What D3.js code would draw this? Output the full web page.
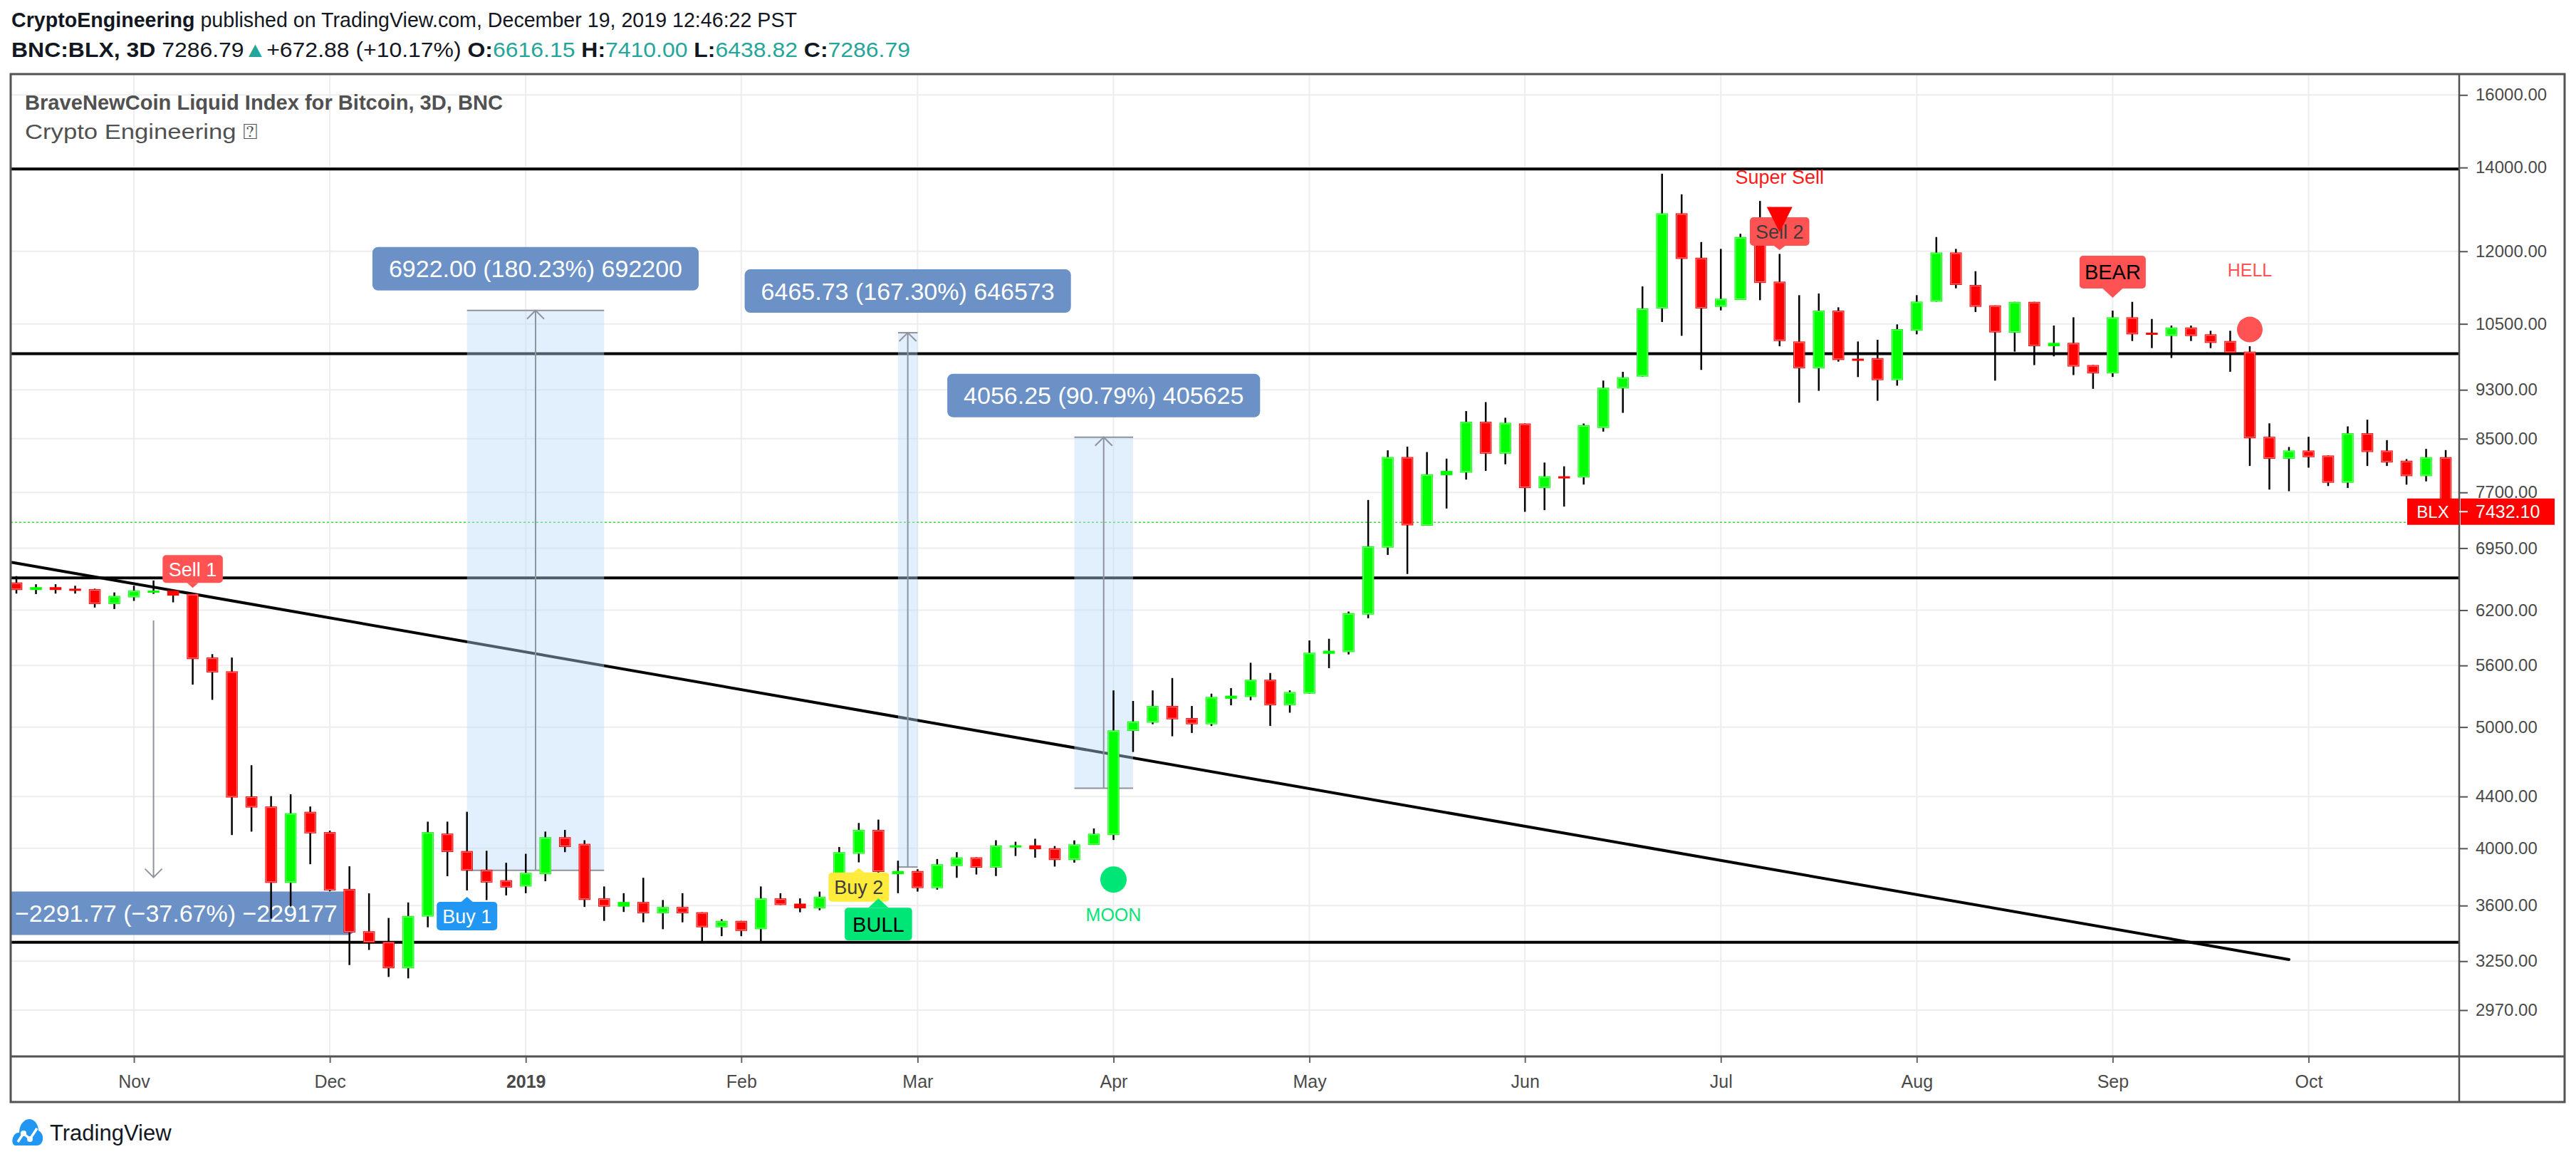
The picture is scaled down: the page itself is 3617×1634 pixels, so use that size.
<!DOCTYPE html>
<html>
<head>
<meta charset="utf-8">
<script src="https://cdn.jsdelivr.net/npm/d3@7"></script>
<style>
html,body{margin:0;padding:0;background:#fff;}
svg{display:block;}
</style>
</head>
<body>
<svg id="chart" width="3617" height="1634"></svg>
<script>
// ================= DATA =================
const candleStart = "2018-10-15";   // first 3-day candle
const candleStepDays = 3;
const opens  = [6524,6434,6468,6450,6444,6270,6348,6409,6427,6389,5682,5540,4401,4320,3754,4278,4121,3712,3434,3368,3208,3528,4110,3980,3845,3772,3729,3814,4083,4033,3648,3593,3624,3549,3591,3556,3459,3500,3447,3648,3613,3582,3659,3960,4138,3814,3836,3718,3872,3934,3860,4010,4022,4000,3915,4025,4099,4964,5041,5198,5084,5026,5268,5285,5455,5204,5317,5722,5740,6150,6956,8218,7242,7947,7986,8769,8269,8741,7762,7932,7915,8669,9324,9529,10802,12869,11859,10835,10973,12300,11348,10165,9676,10759,9849,9858,9467,10367,10939,11974,11279,10863,10331,10934,10077,10139,9733,9585,10628,10331,10268,10430,10300,10174,9977,8530,8191,8317,8241,7838,8586,8317,8162,7934,8216];
const highs  = [6601,6503,6503,6485,6450,6406,6485,6548,6430,6395,5718,5682,4661,4403,4418,4320,4132,3870,3682,3519,3621,4201,4201,4278,3982,3895,3960,4125,4138,4060,3729,3683,3789,3637,3683,3556,3511,3500,3729,3683,3648,3694,4010,4191,4217,3910,3849,3922,3972,3934,4060,4049,4071,4017,4059,4149,5349,5246,5349,5472,5198,5317,5372,5628,5523,5349,5864,5882,6184,7594,8320,8376,8294,8194,8943,9092,8834,8741,8135,8079,8741,9459,9613,11249,13842,13326,12206,12053,12394,13164,11943,11069,11103,10825,10165,10196,10490,11069,12319,12053,11568,10863,10934,10934,10467,10628,9733,10759,10934,10595,10467,10467,10367,10367,10077,8744,8371,8530,8241,8695,8802,8478,8187,8342,8324];
const lows   = [6392,6386,6392,6392,6230,6213,6307,6389,6290,5406,5257,4099,4125,3515,3594,3885,3696,3227,3318,3157,3149,3459,3800,3702,3637,3668,3683,3765,3972,3591,3500,3558,3491,3447,3491,3360,3403,3403,3360,3604,3556,3569,3640,3898,3780,3683,3694,3707,3789,3812,3801,3944,3932,3868,3896,4025,4062,4776,5026,4916,4946,5010,5204,5252,5010,5134,5317,5573,5715,6109,6863,6627,7242,7475,7884,8011,8109,7430,7453,7502,7812,8612,8914,9529,10536,10272,9647,10764,10973,10968,10076,9083,9283,9795,9521,9115,9372,10300,10939,11210,10731,9459,9977,9733,9891,9556,9317,9523,10174,10042,9861,10174,10042,9614,8084,7740,7717,8059,7791,7764,8084,8084,7811,7858,7400];
const closes = [6434,6468,6434,6427,6270,6365,6427,6427,6368,5666,5529,4392,4312,3754,4267,4112,3702,3426,3363,3208,3532,4121,3973,3839,3756,3722,3824,4083,4010,3638,3593,3624,3549,3591,3549,3459,3500,3436,3648,3604,3582,3659,3972,4138,3830,3836,3718,3884,3934,3860,4021,4022,3993,3915,4029,4109,4970,5053,5198,5072,5026,5285,5297,5455,5204,5333,5733,5754,6165,6973,8218,7247,7961,8011,8769,8269,8753,7762,7932,7915,8714,9336,9517,10802,12869,11833,10802,10997,12319,11323,10174,9676,10759,9825,9825,9467,10399,10939,11974,11279,10835,10336,10934,10077,10139,9707,9585,10628,10300,10300,10430,10268,10139,9955,8507,8191,8317,8216,7838,8586,8295,8137,7934,8216,7432.10];

const priceTicks = [16000,14000,12000,10500,9300,8500,7700,6950,6200,5600,5000,4400,4000,3600,3250,2970];
const monthTickLabels = ["Nov","Dec","2019","Feb","Mar","Apr","May","Jun","Jul","Aug","Sep","Oct"];

const levelLines = [13960, 9940, 6580, 3365];
const trendLine = [{i:-0.22, p:6769}, {i:116, p:3260}];
const lastPrice = 7432.10;
const closeLinePrice = 7286.79;

const measures = [
  {i0:23, i1:30, p0:3840.7, p1:10762.7, label:"6922.00 (180.23%) 692200"},
  {i0:45, i1:46, p0:3864.7, p1:10330.4, label:"6465.73 (167.30%) 646573"},
  {i0:54, i1:57, p0:4467.7, p1:8523.95, label:"4056.25 (90.79%) 405625"},
  {i0:7,  i1:7,  p0:6083.8, p1:3792.0,  label:"\u22122291.77 (\u221237.67%) \u2212229177"}
];
const signals = [
  {text:"Sell 1", i:9,   p:6459,  kind:"sell1"},
  {text:"Buy 1",  i:23,  p:3658,  kind:"buy1"},
  {text:"Buy 2",  i:43,  p:3856,  kind:"buy2"},
  {text:"BULL",   i:44,  p:3648,  kind:"bull"},
  {text:"Sell 2", i:90,  p:12027, kind:"sell2"},
  {text:"BEAR",   i:107, p:11016, kind:"bear"}
];
const dots = [
  {text:"MOON", i:56,  p:3777,  kind:"moon"},
  {text:"HELL", i:114, p:10392, kind:"hell"}
];
const superSell = {text:"Super Sell", i:90, pTop:13021, pBottom:12434};

const headerLine1 = [{t:"CryptoEngineering", b:true}, {t:" published on TradingView.com, December 19, 2019 12:46:22 PST"}];
const headerLine2 = [{t:"BNC:BLX, 3D", b:true}, {t:" 7286.79"}, {t:"\u25B2", c:1}, {t:"+672.88 (+10.17%) "},
  {t:"O:", b:true}, {t:"6616.15", c:1}, {t:" H:", b:true}, {t:"7410.00", c:1},
  {t:" L:", b:true}, {t:"6438.82", c:1}, {t:" C:", b:true}, {t:"7286.79", c:1}];
const titleText = "BraveNewCoin Liquid Index for Bitcoin, 3D, BNC";
const subtitleText = "Crypto Engineering \u2370";

// ================= STYLES / LAYOUT =================
const F = "'Liberation Sans', Arial, sans-serif";
const P = {l:15, r:3453, t:104, b:1483, axR:3601, axB:1547};
const teal = "#26a69a";
const signalStyle = {
  sell1:{fill:"#ff5252", color:"#ffffff", fs:27, h:39, ph:7,  pw:8,  pad:8.5, dir:"down"},
  buy1: {fill:"#2196f3", color:"#ffffff", fs:27, h:40, ph:7,  pw:8,  pad:8,   dir:"up"},
  buy2: {fill:"#ffeb3b", color:"#3d3d3d", fs:27, h:41, ph:6,  pw:8,  pad:8,   dir:"up"},
  bull: {fill:"#00e676", color:"#000000", fs:29, h:46, ph:13, pw:14, pad:11,  dir:"up"},
  sell2:{fill:"#ff5252", color:"#3d3d3d", fs:27, h:40, ph:6,  pw:8,  pad:8,   dir:"down"},
  bear: {fill:"#ff5252", color:"#000000", fs:29, h:46, ph:13, pw:14, pad:7,   dir:"down"}
};
const dotStyle = {
  moon:{fill:"#00e676", r:18.5, fs:25, dy:58},
  hell:{fill:"#ff5252", r:18,   fs:25, dy:-75}
};

// ================= SCALES =================
const svg = d3.select("#chart");
const n = opens.length;
const t0 = new Date(candleStart + "T00:00:00Z");
const dates = d3.range(n).map(i => d3.utcDay.offset(t0, i * candleStepDays));
const x = d3.scaleLinear().domain([-0.5, n - 0.5]).range([9.25, 3447.8]);
const y = d3.scaleLog().domain([16000, 2970]).range([133.3, 1418]);

const monthTicks = [];
for (let i = 1; i < n; i++) if (dates[i].getUTCMonth() !== dates[i-1].getUTCMonth()) monthTicks.push(i);

function fitText(sel, target) {
  const len = sel.node().getComputedTextLength();
  if (Math.abs(len - target) / target > 0.012) sel.attr("textLength", target).attr("lengthAdjust", "spacingAndGlyphs");
}

// ================= HEADER =================
function headerLine(parts, yy, target) {
  const t = svg.append("text").attr("x", 16).attr("y", yy).attr("font-family", F)
    .attr("font-size", 30).attr("fill", "#131722");
  parts.forEach(p => t.append("tspan").attr("font-weight", p.b ? "bold" : null)
    .attr("fill", p.c ? teal : null).text(p.t));
  fitText(t, target);
}
headerLine(headerLine1, 38, 1103);
headerLine(headerLine2, 80, 1262);

// ================= GRID =================
const grid = svg.append("g");
grid.selectAll("line.h").data(priceTicks).join("line")
  .attr("x1", P.l).attr("x2", P.r).attr("y1", d => y(d)).attr("y2", d => y(d))
  .attr("stroke", "#ededed").attr("stroke-width", 2);
grid.selectAll("line.v").data(monthTicks).join("line")
  .attr("x1", d => x(d)).attr("x2", d => x(d)).attr("y1", P.t).attr("y2", P.b)
  .attr("stroke", "#ededed").attr("stroke-width", 2);

// title legend
const tl = svg.append("text").attr("x", 35).attr("y", 154).attr("font-family", F).attr("font-size", 30)
  .attr("font-weight", "bold").attr("fill", "#515151").text(titleText);
fitText(tl, 671);
const st = svg.append("text").attr("x", 35).attr("y", 195).attr("font-family", F).attr("font-size", 30)
  .attr("fill", "#515151").text(subtitleText);
fitText(st, 327);

// ================= PLOT (clipped) =================
svg.append("clipPath").attr("id", "pc").append("rect")
  .attr("x", P.l).attr("y", P.t).attr("width", P.r - P.l).attr("height", P.b - P.t);
const plot = svg.append("g").attr("clip-path", "url(#pc)");

// level lines
plot.selectAll("line.lvl").data(levelLines).join("line")
  .attr("x1", P.l).attr("x2", P.r).attr("y1", d => y(d)).attr("y2", d => y(d))
  .attr("stroke", "#000").attr("stroke-width", 4);
// trend line
plot.append("line")
  .attr("x1", x(trendLine[0].i)).attr("y1", y(trendLine[0].p))
  .attr("x2", x(trendLine[1].i)).attr("y2", y(trendLine[1].p))
  .attr("stroke", "#000").attr("stroke-width", 4).attr("stroke-linecap", "round");
// close dotted line
plot.append("line").attr("x1", P.l).attr("x2", P.r).attr("y1", y(closeLinePrice)).attr("y2", y(closeLinePrice))
  .attr("stroke", "#33dd33").attr("stroke-width", 1.5).attr("stroke-dasharray", "3,3");

// measures
const mg = plot.append("g");
measures.forEach(m => {
  const xa = x(m.i0), xb = x(m.i1), xm = (xa + xb) / 2;
  const ya = y(m.p0), yb = y(m.p1);
  const top = Math.min(ya, yb), bot = Math.max(ya, yb);
  const up = yb < ya;
  if (xb > xa) {
    mg.append("rect").attr("x", xa).attr("y", top).attr("width", xb - xa).attr("height", bot - top)
      .attr("fill", "rgba(187,217,251,0.42)");
    [top, bot].forEach(yy => mg.append("line").attr("x1", xa).attr("x2", xb).attr("y1", yy).attr("y2", yy)
      .attr("stroke", "#8f939c").attr("stroke-width", 2));
  }
  mg.append("line").attr("x1", xm).attr("x2", xm).attr("y1", ya).attr("y2", yb)
    .attr("stroke", "#8f939c").attr("stroke-width", 2);
  const s = up ? 1 : -1;
  mg.append("path").attr("d", `M${xm-12},${yb + s*12}L${xm},${yb}L${xm+12},${yb + s*12}`)
    .attr("fill", "none").attr("stroke", "#8f939c").attr("stroke-width", 2);
  const lg = mg.append("g");
  const txt = lg.append("text").attr("x", xm).attr("text-anchor", "middle").attr("font-family", F)
    .attr("font-size", 34).attr("fill", "#fff").text(m.label);
  const tw = txt.node().getComputedTextLength();
  const bh = 61;
  let bx0 = xm - (tw + 46) / 2, bx1 = xm + (tw + 46) / 2;
  if (bx0 + 23 < P.l + 6) {           // keep the whole label text inside the pane
    const tx = P.l + 6;
    txt.attr("x", tx).attr("text-anchor", "start");
    bx1 = tx + tw + 23;
  }
  const by = up ? yb - 28 - bh : yb + 20;
  lg.insert("rect", "text").attr("x", bx0).attr("y", by).attr("width", bx1 - bx0).attr("height", bh)
    .attr("rx", 8).attr("fill", "#6b91c6");
  txt.attr("y", by + bh/2 + 12);
});

// candles
const idx = d3.range(n);
const cg = plot.append("g");
const bw = 16.5;
cg.selectAll("line.wick").data(idx).join("line")
  .attr("x1", i => x(i)).attr("x2", i => x(i))
  .attr("y1", i => y(highs[i])).attr("y2", i => y(lows[i]))
  .attr("stroke", "#000").attr("stroke-width", 2.5);
const up = i => closes[i] >= opens[i];
const bodyTop = i => y(Math.max(opens[i], closes[i]));
const bodyH = i => Math.max(3, Math.abs(y(opens[i]) - y(closes[i])));
cg.selectAll("rect.body").data(idx).join("rect")
  .attr("x", i => x(i) - bw/2).attr("width", bw)
  .attr("y", bodyTop).attr("height", bodyH)
  .attr("fill", i => up(i) ? "#00ff00" : "#ff0000");
cg.selectAll("rect.inner").data(idx.filter(i => bodyH(i) > 8)).join("rect")
  .attr("x", i => x(i) - bw/2 + 1.5).attr("width", bw - 3)
  .attr("y", i => bodyTop(i) + 1.5).attr("height", i => bodyH(i) - 3)
  .attr("fill", "none").attr("stroke", i => up(i) ? "#8cff8c" : "#ff8c8c").attr("stroke-width", 1);

// signals
const sg = plot.append("g");
signals.forEach(sgn => {
  const st = signalStyle[sgn.kind];
  const cx = x(sgn.i), ty = y(sgn.p);
  const g = sg.append("g");
  const txt = g.append("text").attr("x", cx).attr("text-anchor", "middle").attr("font-family", F)
    .attr("font-size", st.fs).attr("fill", st.color).text(sgn.text);
  const tw = txt.node().getComputedTextLength();
  const w = tw + 2 * st.pad;
  const by = st.dir === "down" ? ty - st.ph - st.h : ty + st.ph;
  g.insert("rect", "text").attr("x", cx - w/2).attr("y", by).attr("width", w).attr("height", st.h)
    .attr("rx", 5).attr("fill", st.fill);
  const base = st.dir === "down" ? by + st.h : by;
  g.insert("path", "text").attr("d", `M${cx - st.pw},${base}L${cx},${ty}L${cx + st.pw},${base}Z`)
    .attr("fill", st.fill);
  txt.attr("y", by + st.h/2 + st.fs * 0.36);
});

// dots
dots.forEach(d => {
  const st = dotStyle[d.kind];
  const cx = x(d.i), cy = y(d.p);
  plot.append("circle").attr("cx", cx).attr("cy", cy).attr("r", st.r).attr("fill", st.fill);
  plot.append("text").attr("x", cx).attr("y", cy + st.dy).attr("text-anchor", "middle")
    .attr("font-family", F).attr("font-size", st.fs).attr("fill", st.fill).text(d.text);
});

// super sell
{
  const cx = x(superSell.i), yt = y(superSell.pTop), yb = y(superSell.pBottom);
  plot.append("path").attr("d", `M${cx-18},${yt}L${cx+18},${yt}L${cx},${yb}Z`).attr("fill", "#ff0000");
  plot.append("text").attr("x", cx).attr("y", yt - 32).attr("text-anchor", "middle").attr("font-family", F)
    .attr("font-size", 27).attr("fill", "#ff1a1a").text(superSell.text);
}

// ================= AXES =================
const yAxis = d3.axisRight(y).tickValues(priceTicks).tickFormat(d3.format(".2f")).tickSize(12).tickPadding(11);
const yg = svg.append("g").attr("transform", `translate(${P.r},0)`).call(yAxis);
yg.select(".domain").remove();
yg.selectAll(".tick line").attr("stroke", "#555").attr("stroke-width", 2);
yg.selectAll(".tick text").attr("font-family", F).attr("font-size", 24).attr("fill", "#4a4a4a");

const xAxis = d3.axisBottom(x).tickValues(monthTicks).tickFormat((d, k) => monthTickLabels[k]).tickSize(9).tickPadding(17);
const xg = svg.append("g").attr("transform", `translate(0,${P.b})`).call(xAxis);
xg.select(".domain").remove();
xg.selectAll(".tick line").attr("stroke", "#666").attr("stroke-width", 2);
xg.selectAll(".tick text").attr("font-family", F).attr("font-size", 25).attr("fill", "#4a4a4a")
  .attr("font-weight", (d, k) => /^\d+$/.test(monthTickLabels[k]) ? "bold" : null);

// borders
const bd = svg.append("g").attr("stroke", "#525252").attr("fill", "none");
bd.append("rect").attr("x", P.l).attr("y", P.t).attr("width", P.axR - P.l).attr("height", P.axB - P.t).attr("stroke-width", 3);
bd.append("line").attr("x1", P.l).attr("x2", P.axR).attr("y1", P.b).attr("y2", P.b).attr("stroke-width", 3);
bd.append("line").attr("x1", P.r).attr("x2", P.r).attr("y1", P.t).attr("y2", P.axB).attr("stroke-width", 2.5);

// last price labels
{
  const yy = y(lastPrice), h = 37;
  svg.append("rect").attr("x", 3380).attr("y", yy - h/2).attr("width", P.r - 3380).attr("height", h).attr("fill", "#ff0000");
  svg.append("text").attr("x", 3416).attr("y", yy + 8.5).attr("text-anchor", "middle").attr("font-family", F)
    .attr("font-size", 24).attr("fill", "#fff").text("BLX");
  svg.append("rect").attr("x", P.r + 2).attr("y", yy - h/2).attr("width", 3587 - P.r - 2).attr("height", h).attr("fill", "#ff0000");
  svg.append("line").attr("x1", P.r).attr("x2", P.r + 12).attr("y1", yy).attr("y2", yy).attr("stroke", "#fff").attr("stroke-width", 2);
  svg.append("text").attr("x", 3476).attr("y", yy + 9).attr("font-family", F)
    .attr("font-size", 25).attr("fill", "#fff").text(d3.format(".2f")(lastPrice));
}

// ================= TRADINGVIEW LOGO =================
{
  const g = svg.append("g");
  g.append("path").attr("fill", "#2196f3")
    .attr("d", "M22,1608 C17,1608 16,1600 19,1595 C21,1591 24,1590 27,1590 C27,1580 33,1571 41,1571 C49,1571 54,1579 54,1587 C58,1589 61,1594 60,1600 C59,1605 56,1608 52,1608 Z");
  g.append("polyline").attr("points", "25,1603 33,1591 42,1599 52,1584").attr("fill", "none")
    .attr("stroke", "#fff").attr("stroke-width", 3.5).attr("stroke-linejoin", "round");
  [[33,1591],[42,1599]].forEach(p => g.append("circle").attr("cx", p[0]).attr("cy", p[1]).attr("r", 4).attr("fill", "#fff"));
  g.append("text").attr("x", 70).attr("y", 1601).attr("font-family", F).attr("font-size", 31)
    .attr("fill", "#131722").text("TradingView");
}
</script>
</body>
</html>
